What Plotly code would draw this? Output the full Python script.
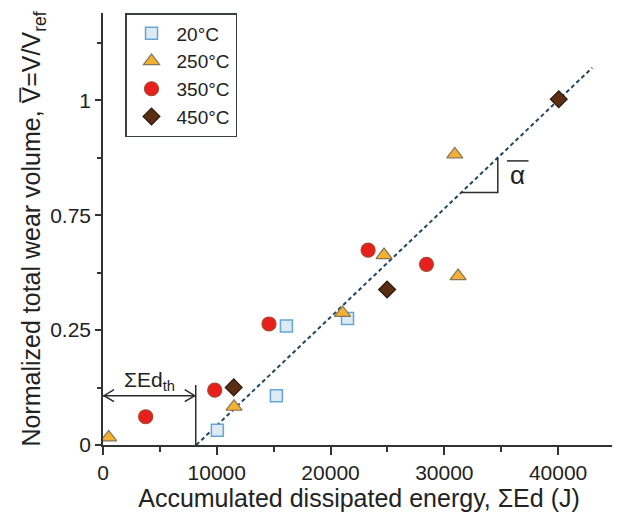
import plotly.graph_objects as go

# ---- data ----
e_20 = [10050, 15240, 16120, 21490]
v_20 = [0.043, 0.143, 0.345, 0.367]

e_250 = [500, 11520, 21050, 24700, 30920, 31210]
v_250 = [0.022, 0.111, 0.383, 0.551, 0.843, 0.490]

e_350 = [3750, 9820, 14590, 23300, 28430]
v_350 = [0.082, 0.159, 0.351, 0.565, 0.524]

e_450 = [11490, 24970, 40060]
v_450 = [0.167, 0.451, 1.003]

# fitted line: V = (E - E_th) / slope_e
E_TH = 8200
SLOPE_E = 31800
line_e = [E_TH, 43000]
line_v = [(e - E_TH) / SLOPE_E for e in line_e]

y_tickvals = [0, 1/3, 2/3, 1]
y_ticktext = ["0", "0.25", "0.75", "1"]
x_tickvals = [0, 10000, 20000, 30000, 40000]

FONT = "Liberation Sans, Arial, sans-serif"
TXT = "#222222"

fig = go.Figure()

fig.add_trace(go.Scatter(x=line_e, y=line_v, mode="lines", showlegend=False,
                         line=dict(color="#24465f", width=2, dash="4px,3px")))

fig.add_trace(go.Scatter(x=e_20, y=v_20, mode="markers", name="20°C",
                         marker=dict(symbol="square", size=12, color="#dceaf4",
                                     line=dict(color="#6aa3d5", width=1.5))))
fig.add_trace(go.Scatter(x=e_250, y=v_250, mode="markers", name="250°C",
                         marker=dict(symbol="triangle-up", size=14, color="#f2b134",
                                     line=dict(color="#857657", width=1.2))))
fig.add_trace(go.Scatter(x=e_350, y=v_350, mode="markers", name="350°C",
                         marker=dict(symbol="circle", size=14, color="#e8201c",
                                     line=dict(color="#a8442f", width=1.2))))
fig.add_trace(go.Scatter(x=e_450, y=v_450, mode="markers", name="450°C",
                         marker=dict(symbol="diamond", size=13, color="#5b2e12",
                                     line=dict(color="#2a1a10", width=1.2))))

ANN_COL = "#2b2b2b"
shapes = []
# threshold vertical line
E_LINE = 8150
shapes.append(dict(type="line", x0=E_LINE, x1=E_LINE, y0=0, y1=0.174,
                   line=dict(color=ANN_COL, width=1.5)))
# double arrow
Y_ARR = 0.143
shapes.append(dict(type="line", x0=0, x1=E_LINE, y0=Y_ARR, y1=Y_ARR,
                   line=dict(color=ANN_COL, width=1.5)))
shapes.append(dict(type="path", xsizemode="pixel", ysizemode="pixel",
                   xanchor=0, yanchor=Y_ARR, path="M 11,6 L 1,0 L 11,-6",
                   line=dict(color=ANN_COL, width=1.5)))
shapes.append(dict(type="path", xsizemode="pixel", ysizemode="pixel",
                   xanchor=E_LINE, yanchor=Y_ARR, path="M -11,6 L -1,0 L -11,-6",
                   line=dict(color=ANN_COL, width=1.5)))
# slope triangle
E1, E2 = 31500, 34700
v1 = (E1 - E_TH) / SLOPE_E
v2 = (E2 - E_TH) / SLOPE_E
shapes.append(dict(type="path",
                   path=f"M {E1},{v1} L {E2},{v1} L {E2},{v2}",
                   line=dict(color=ANN_COL, width=1.5)))
# overline of alpha
shapes.append(dict(type="line", x0=35500, x1=37400, y0=0.824, y1=0.824,
                   line=dict(color=ANN_COL, width=1.5)))

annotations = [
    dict(x=4100, y=0.185, text="ΣEd<sub>th</sub>", showarrow=False,
         font=dict(family=FONT, size=21, color=TXT)),
    dict(x=36450, y=0.783, text="α", showarrow=False,
         font=dict(family=FONT, size=26, color=TXT)),
]

# page body has an 8px margin: figure is sized/placed to compensate
fig.update_layout(
    width=612, height=512,
    margin=dict(l=95, r=5, t=5, b=75),
    paper_bgcolor="white", plot_bgcolor="white",
    font=dict(family=FONT, size=21, color=TXT),
    shapes=shapes, annotations=annotations,
    legend=dict(x=0.043, y=1.0, xanchor="left", yanchor="top",
                bordercolor="#3a3f44", borderwidth=1.5, bgcolor="white",
                itemwidth=40, font=dict(family=FONT, size=19, color=TXT),
                tracegroupgap=0),
    xaxis=dict(range=[0, 45000], tickvals=x_tickvals, ticktext=[str(v) for v in x_tickvals],
               automargin=False,
               showgrid=False, zeroline=False, showline=True, linecolor="#333333",
               linewidth=1.5, ticks="outside", ticklen=8, tickwidth=1.5, tickcolor="#333333",
               tickfont=dict(family=FONT, size=21, color=TXT),
               minor=dict(dtick=5000, tick0=0, ticks="outside", ticklen=5, tickwidth=1.5,
                          tickcolor="#333333", showgrid=False),
               title=dict(text="Accumulated dissipated energy, ΣEd (J)", standoff=6,
                          font=dict(family=FONT, size=25, color=TXT))),
    yaxis=dict(range=[0, 1.253], tickvals=y_tickvals, ticktext=y_ticktext,
               automargin=False,
               showgrid=False, zeroline=False, showline=True, linecolor="#333333",
               linewidth=1.5, ticks="outside", ticklen=6, tickwidth=1.5, tickcolor="#333333",
               tickfont=dict(family=FONT, size=21, color=TXT),
               minor=dict(dtick=1/6, tick0=0, ticks="outside", ticklen=4, tickwidth=1.5,
                          tickcolor="#333333", showgrid=False),
               title=dict(text="Normalized total wear volume, V\u0305=V/V<sub>ref</sub>",
                          standoff=2, font=dict(family=FONT, size=25, color=TXT))),
)

fig.write_html("out.html")
